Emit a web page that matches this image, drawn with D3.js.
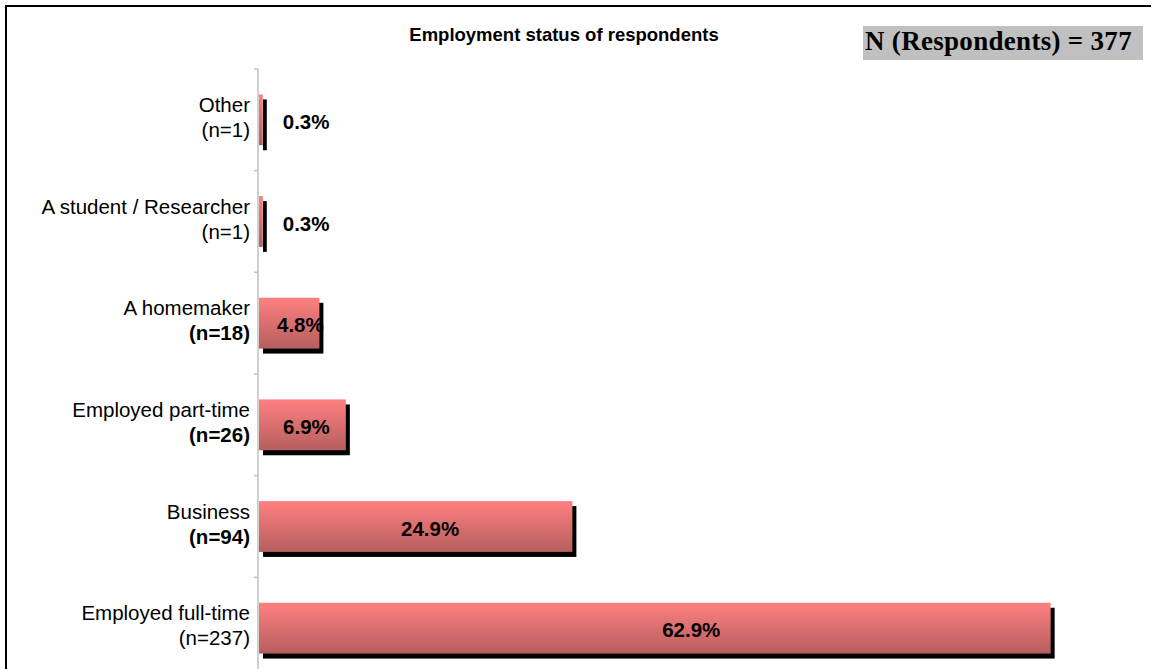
<!DOCTYPE html>
<html>
<head>
<meta charset="utf-8">
<script src="https://cdn.jsdelivr.net/npm/d3@7"></script>
<style>
  html, body { margin: 0; padding: 0; background: #fff; }
  svg { display: block; }
</style>
</head>
<body>
<svg id="chart" width="1154" height="669"></svg>
<script>
// Employment status, top to bottom as listed on the axis
const categories = ["Other", "A student / Researcher", "A homemaker", "Employed part-time", "Business", "Employed full-time"];
const counts = [1, 1, 18, 26, 94, 237];
const percents = [0.3, 0.3, 4.8, 6.9, 24.9, 62.9];
const countBold = [false, false, true, true, true, false];
const totalRespondents = 377;
const titleText = "Employment status of respondents";

const svg = d3.select("#chart");
const W = 1154, H = 669;
const sans = "'Liberation Sans', Arial, sans-serif";

// outer frame (left and top edges visible)
svg.append("path")
  .attr("d", `M6,${H + 10}V6H1151`)
  .attr("fill", "none").attr("stroke", "#000").attr("stroke-width", 2);

// bar fill gradient
const defs = svg.append("defs");
const grad = defs.append("linearGradient").attr("id", "barFill")
  .attr("x1", 0).attr("y1", 0).attr("x2", 0).attr("y2", 1);
grad.append("stop").attr("offset", "0%").attr("stop-color", "rgb(255,128,128)");
grad.append("stop").attr("offset", "100%").attr("stop-color", "rgb(182,94,94)");

const x = d3.scaleLinear().domain([0, 70]).range([259, 1140]);
const y = d3.scaleBand().domain(categories).range([69, 679]).paddingInner(0.5).paddingOuter(0.25);

// category axis
const axisG = svg.append("g").attr("transform", `translate(${x(0) - 1},0)`);
axisG.append("line").attr("y1", 69).attr("y2", 679)
  .attr("stroke", "#c0c0c0").attr("stroke-width", 1.5);
const step = y.step();
const tickYs = categories.map(c => y(c) - step * y.paddingInner() / 2);
axisG.selectAll("line.tick").data(tickYs).join("line")
  .attr("class", "tick")
  .attr("x1", -4).attr("x2", 0)
  .attr("y1", d => d).attr("y2", d => d)
  .attr("stroke", "#c0c0c0").attr("stroke-width", 1.5);

const rows = categories.map((c, i) => ({ c, n: counts[i], p: percents[i], bold: countBold[i] }));

// category labels: name + count
const lbl = svg.append("g").selectAll("text").data(rows).join("text")
  .attr("text-anchor", "end")
  .attr("font-family", sans)
  .attr("font-size", 20.5)
  .attr("fill", "#000");
lbl.append("tspan")
  .attr("x", 250)
  .attr("y", d => y(d.c) + y.bandwidth() / 2 - 8)
  .text(d => d.c);
lbl.append("tspan")
  .attr("x", 250)
  .attr("y", d => y(d.c) + y.bandwidth() / 2 + 17)
  .attr("font-weight", d => d.bold ? "bold" : "normal")
  .text(d => `(n=${d.n})`);

// bar shadows
svg.append("g").selectAll("rect").data(rows).join("rect")
  .attr("x", x(0) + 4)
  .attr("y", d => y(d.c) + 5)
  .attr("width", d => x(d.p) - x(0))
  .attr("height", y.bandwidth())
  .attr("fill", "#000");

// bars
svg.append("g").selectAll("rect").data(rows).join("rect")
  .attr("x", x(0))
  .attr("y", d => y(d.c))
  .attr("width", d => x(d.p) - x(0))
  .attr("height", y.bandwidth())
  .attr("fill", "url(#barFill)");

// value labels
const vals = svg.append("g").selectAll("text").data(rows).join("text")
  .attr("font-family", sans)
  .attr("font-size", 20.5)
  .attr("font-weight", "bold")
  .attr("fill", "#000")
  .attr("y", d => y(d.c) + y.bandwidth() / 2 + 9)
  .text(d => d.p.toFixed(1) + "%");
vals.each(function (d) {
  const t = d3.select(this);
  const w = this.getComputedTextLength();
  const barW = x(d.p) - x(0);
  if (barW < 20) {
    t.attr("text-anchor", "start").attr("x", x(d.p) + 20);
  } else {
    const cx = Math.max(x(0) + barW * 0.546, x(0) + w / 2 + 18);
    t.attr("text-anchor", "middle").attr("x", cx);
  }
});

// title
svg.append("text")
  .attr("x", 564).attr("y", 41)
  .attr("text-anchor", "middle")
  .attr("font-family", sans)
  .attr("font-size", 18.5)
  .attr("font-weight", "bold")
  .text(titleText);

// respondent count box
svg.append("rect")
  .attr("x", 863).attr("y", 26).attr("width", 280).attr("height", 34)
  .attr("fill", "#c0c0c0");
svg.append("text")
  .attr("x", 865).attr("y", 50)
  .attr("font-family", "'Liberation Serif', 'Times New Roman', serif")
  .attr("font-size", 27)
  .attr("font-weight", "bold")
  .attr("letter-spacing", 0.3)
  .text(`N (Respondents) = ${totalRespondents}`);
</script>
</body>
</html>
